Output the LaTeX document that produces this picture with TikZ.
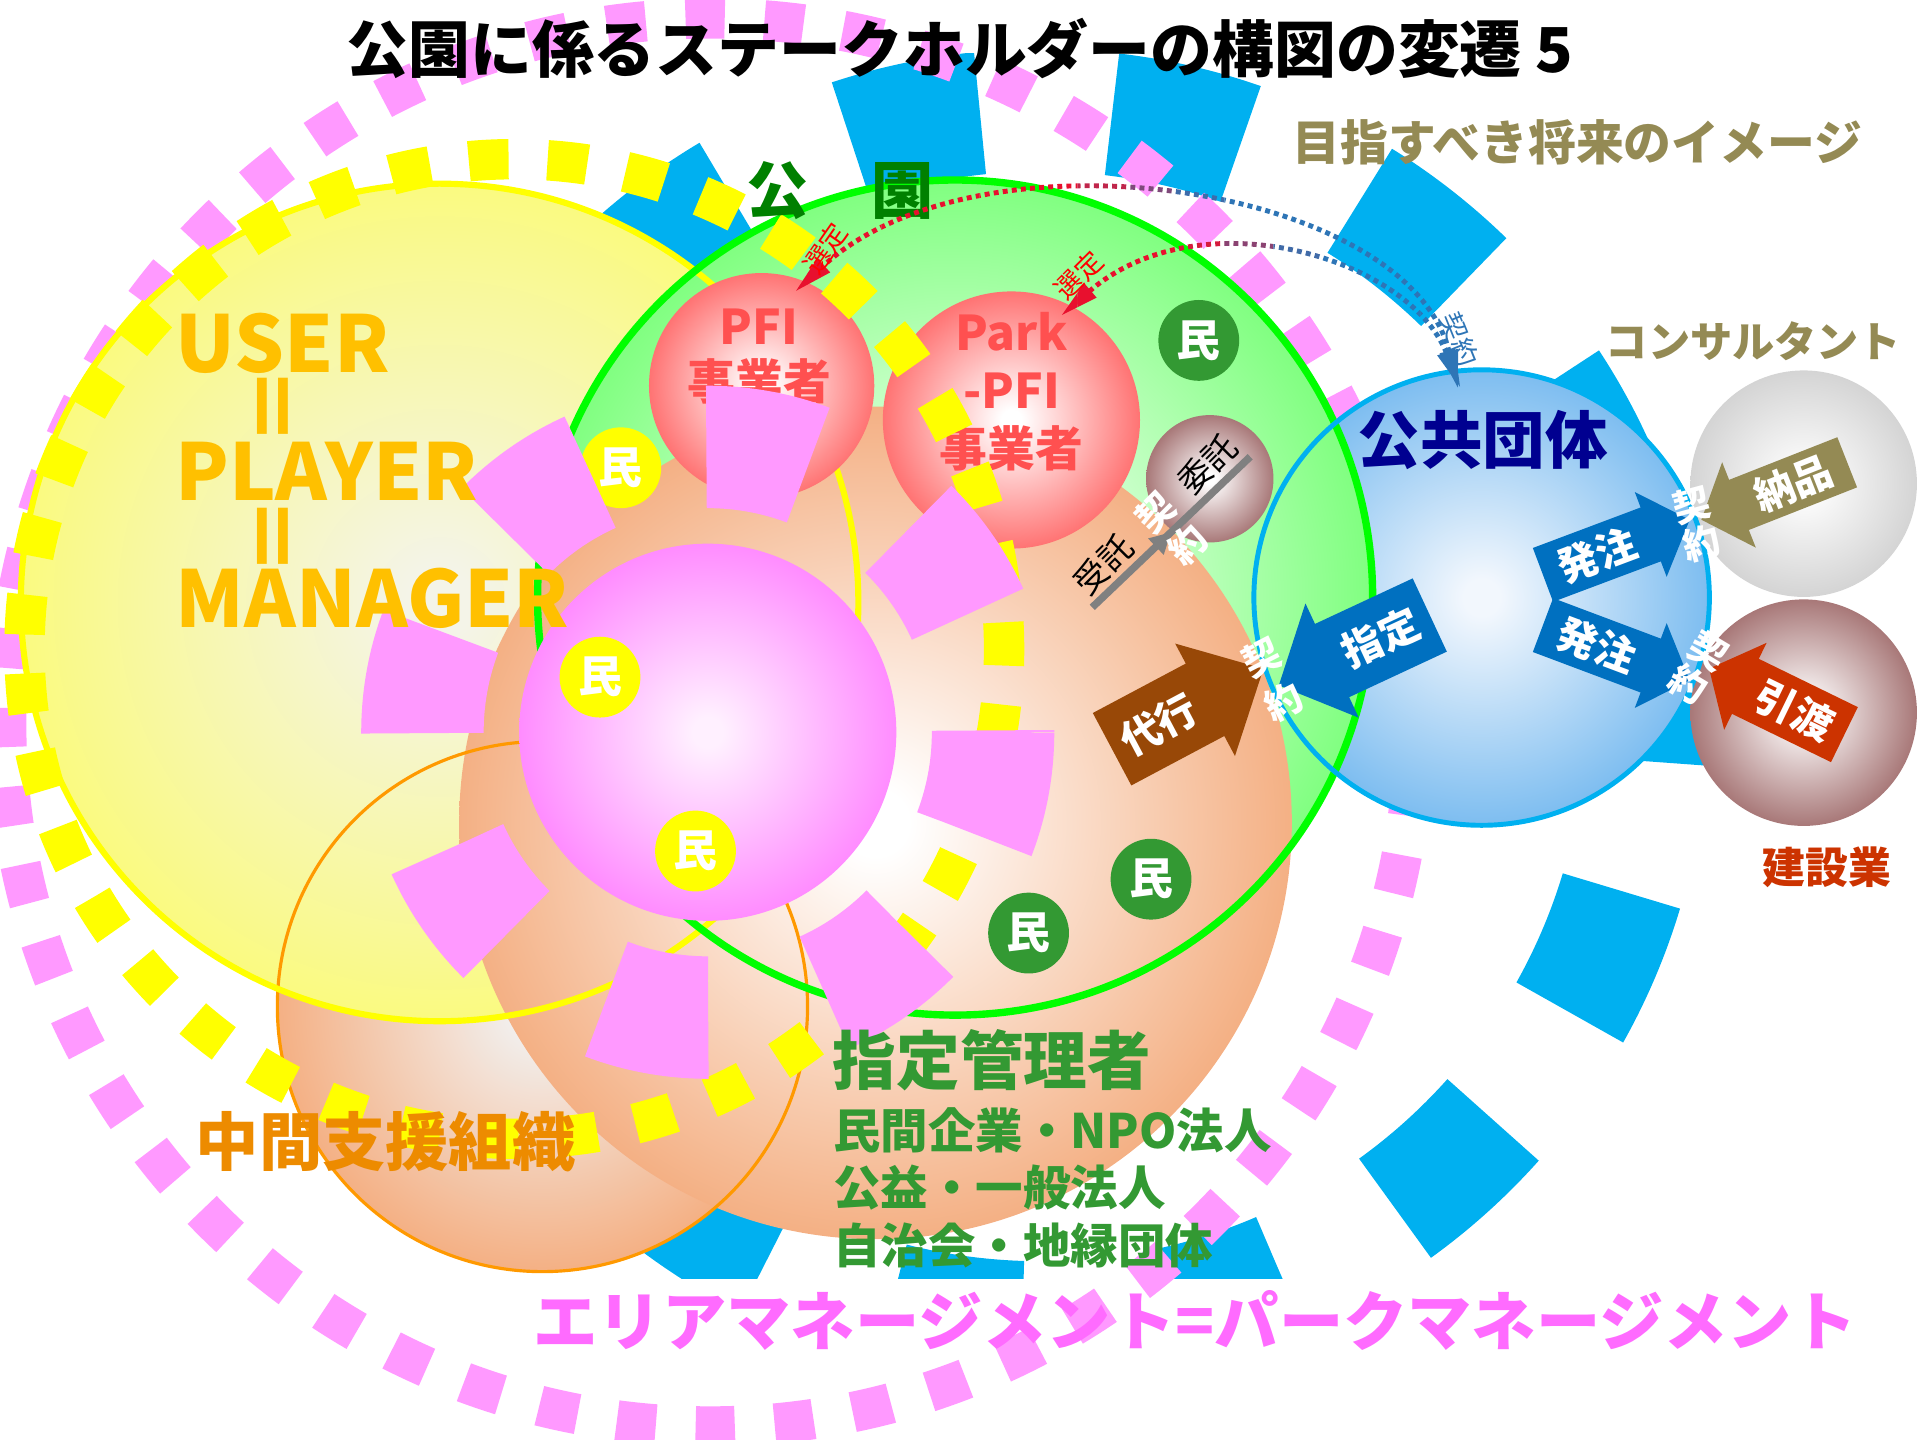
\documentclass[tikz,border=0pt]{standalone}
\usepackage{fontspec}
\setmainfont{Noto Sans CJK JP}
\usetikzlibrary{arrows.meta,decorations.markings}

\definecolor{ringblue}{HTML}{00B0F0}
\definecolor{ringpink}{HTML}{FF99FF}
\definecolor{ringyellow}{HTML}{FFFF00}
\definecolor{userfill}{HTML}{FAFA80}
\definecolor{usercore}{HTML}{F4F4E8}
\definecolor{parkfill}{HTML}{80FF80}
\definecolor{parkline}{HTML}{00FF00}
\definecolor{mgrfill}{HTML}{F4B084}
\definecolor{midcore}{HTML}{F2F2F2}
\definecolor{midline}{HTML}{FF9900}
\definecolor{pinkfill}{HTML}{FF8CFF}
\definecolor{pinkcore}{HTML}{FFF0FF}
\definecolor{pfifill}{HTML}{FF7373}
\definecolor{pfitext}{HTML}{FF5050}
\definecolor{rosyfill}{HTML}{A87878}
\definecolor{greyfill}{HTML}{D4D4D4}
\definecolor{pubfill}{HTML}{7DBDF0}
\definecolor{pubcore}{HTML}{F2F7FD}
\definecolor{publine}{HTML}{00B0F0}
\definecolor{pubtext}{HTML}{000090}
\definecolor{mingreen}{HTML}{339933}
\definecolor{parktext}{HTML}{008000}
\definecolor{usertext}{HTML}{FFC000}
\definecolor{midtext}{HTML}{ED8B00}
\definecolor{amtext}{HTML}{FF6BFF}
\definecolor{olivetext}{HTML}{948A54}
\definecolor{buildred}{HTML}{CC3300}
\definecolor{orderblue}{HTML}{0070C0}
\definecolor{proxybrown}{HTML}{984807}
\definecolor{selred}{HTML}{E8102E}
\definecolor{conblue}{HTML}{2E75B6}
\definecolor{trustgrey}{HTML}{808080}

\colorlet{ballin}{white}
\colorlet{ballout}{gray}
\pgfdeclareradialshading[ballin,ballout]{ballshade}{\pgfpoint{0bp}{0bp}}{%
  color(0bp)=(ballin); color(2bp)=(ballin); color(25bp)=(ballout); color(50bp)=(ballout)}

\tikzset{
    sphere/.style 2 args = {circle, inner sep=0pt, outer sep=0pt, shade, shading=ballshade,
        /utils/exec={\colorlet{ballin}{#1}\colorlet{ballout}{#2}}},
    diam/.style = {minimum size=#1*0.12245mm},
    ring/.style = {line width=#1*0.3484pt},
    rim/.style = {circle, inner sep=0pt, outer sep=0pt, draw=#1},
    lbl/.style 2 args = {font=\bfseries\fontsize{#1}{#2}\selectfont, inner sep=0pt, align=center},
    thinlbl/.style = {font=\fontsize{#1}{#1}\selectfont, inner sep=0pt},
    badge/.style = {circle, fill=#1, diam=66, inner sep=0pt, text=white,
        font=\bfseries\fontsize{12.5}{12.5}\selectfont},
    pactlbl/.style = {text=white, lbl={10.5}{#1}},
    arrowtext/.style = {text=white, lbl={11.5}{11.5}},
    selline/.style = {line width=1.4pt, dash pattern=on 1.4pt off 1.2pt,
        {Triangle[length=11pt,width=5pt]}-{Triangle[length=11pt,width=5pt]}},
    trustline/.style = {draw=trustgrey, line width=2.1pt, postaction={decorate},
        decoration={markings, mark=at position 0.5 with {\arrow{Triangle[length=6pt,width=6pt]}}}},
    pics/blockarrow/.style n args = {6}{code={
        \fill[#5] ({-(#1)/2},{-(#2)/2}) -- ({(#1)/2-(#4)},{-(#2)/2}) -- ({(#1)/2-(#4)},{-(#3)/2})
            -- ({(#1)/2},0) -- ({(#1)/2-(#4)},{(#3)/2}) -- ({(#1)/2-(#4)},{(#2)/2})
            -- ({-(#1)/2},{(#2)/2}) -- cycle;
        \node[transform shape, arrowtext] (-t) at ({-(#4)/2},0) {#6};
    }}
}

\begin{document}
\begin{tikzpicture}[x=0.12245mm, y=-0.12245mm]
    \useasboundingbox (0,0) rectangle (1568,1176);
    % rings at the back
    \begin{scope}
        \clip (0,44) rectangle (1568,1044);
        \draw[ringblue, ring=100, dash pattern=on 37.63pt off 37.63pt, dash phase=9.8pt]
            (850,585) ++(180:495) arc[start angle=180, end angle=540, radius=495];
    \end{scope}
    \draw[ringpink, ring=33, dash pattern=on 11.15pt off 11.33pt, dash phase=7pt] (580,590) circle[radius=575];

    \node[sphere={white}{greyfill}, diam=185] (cons) at (1473,395) {};
    \node[sphere={white}{rosyfill}, diam=185] (kens) at (1473,582) {};
    \node[sphere={pubcore}{pubfill}, diam=372] (kokyo) at (1210,488) {};
    \node[sphere={midcore}{mgrfill}, diam=433] (mid) at (443,822) {};
    \node[sphere={usercore}{userfill}, diam=684] (user) at (359,492) {};
    \node[sphere={white}{parkfill}, diam=682] (park) at (780,488) {};
    \node[sphere={white}{mgrfill}, diam=680] (mgr) at (715,672) {};

    \node[rim=midline, line width=0.9pt, diam=433] (midrim) at (mid) {};
    \node[rim=ringyellow, line width=1.75pt, diam=684] (userrim) at (user) {};
    \node[rim=parkline, line width=2.1pt, diam=682] (parkrim) at (park) {};
    \node[rim=publine, line width=1.4pt, diam=372] (kokyorim) at (kokyo) {};

    \node[sphere={white}{pfifill}, diam=184] (pfi) at (622,315) {};
    \node[sphere={white}{pfifill}, diam=210] (ppfi) at (826,343) {};
    \node[sphere={white}{rosyfill}, diam=104] (itaku) at (988,391) {};
    \node[lbl={13.6}{15.7}, text=pfitext] (pfitxt) at (620,291) {PFI\\事業者};
    \node[lbl={13.6}{16.4}, text=pfitext] (ppfitxt) at (826,320) {Park\\-PFI\\事業者};

    \node[sphere={pinkcore}{pinkfill}, diam=308] (mgt) at (578,598) {};

    \node[badge=mingreen] (min1) at (979,278) {民};
    \node[badge=mingreen] (min2) at (940,718) {民};
    \node[badge=mingreen] (min3) at (840,762) {民};
    \node[badge=ringyellow] (min4) at (507,382) {民};
    \node[badge=ringyellow] (min5) at (490,553) {民};
    \node[badge=ringyellow] (min6) at (568,695) {民};

    % rings in front
    \draw[ringyellow, ring=33, dash pattern=on 11.32pt off 11.11pt, dash phase=6.6pt] (420,530) circle[radius=400];
    \draw[ringpink, ring=100, dash pattern=on 29.6pt off 34.1pt] (578,598) circle[radius=233];

    \node[lbl={17.6}{17.6}] (title) at (784,40) {公園に係るステークホルダーの構図の変遷 5};
    \node[lbl={13.6}{13.6}, text=olivetext] (future) at (1288,116) {目指すべき将来のイメージ};
    \node[lbl={17.7}{17.7}, text=parktext] (parklbl) at (686,156) {公　園};
    \node[lbl={17.8}{17.8}, text=pubtext] (kokyolbl) at (1211,359) {公共団体};
    \node[lbl={12}{12}, text=olivetext] (conslbl) at (1432,279) {コンサルタント};
    \node[lbl={12.2}{12.2}, text=buildred] (kenslbl) at (1492,708) {建設業};

    \node[lbl={22.3}{22.3}, text=usertext, anchor=west] (user1) at (143,280) {USER};
    \node[lbl={22.3}{22.3}, text=usertext, rotate=90] (eq1) at (229,332) {\scalebox{1.35}[1]{=}};
    \node[lbl={22.3}{22.3}, text=usertext, anchor=west] (user2) at (143,385) {PLAYER};
    \node[lbl={22.3}{22.3}, text=usertext, rotate=90] (eq2) at (229,438) {\scalebox{1.35}[1]{=}};
    \node[lbl={22.3}{22.3}, text=usertext, anchor=west] (user3) at (143,489) {MANAGER};

    \node[lbl={18}{18}, text=midtext] (midlbl) at (315,932) {中間支援組織};
    \node[lbl={18.1}{18.1}, text=mingreen] (mgrlbl) at (810,866) {指定管理者};
    \node[lbl={13.5}{13.5}, text=mingreen, anchor=west] (mgr1) at (680,923) {民間企業・NPO法人};
    \node[lbl={13.5}{13.5}, text=mingreen, anchor=west] (mgr2) at (680,970) {公益・一般法人};
    \node[lbl={13.5}{13.5}, text=mingreen, anchor=west] (mgr3) at (680,1017) {自治会・地縁団体};
    \node[lbl={18.3}{18.3}, text=amtext] (amlbl) at (976,1078) {エリアマネージメント=パークマネージメント};

    % trust between the two
    \coordinate (trustfrom) at (892,496);
    \coordinate (trustto) at (1021,373);
    \draw[trustline] (trustfrom) -- (trustto);
    \node[thinlbl=9.5, rotate=45] (jutaku) at (901,461) {受託};
    \node[thinlbl=9.5, rotate=45] (itakulbl) at (986,379) {委託};

    \pic[rotate=25] (desig) at (1106,531) {blockarrow={-136}{66}{103}{-48}{orderblue}{指定}};
    \pic[rotate=28] (proxy) at (970,579) {blockarrow={140}{67}{104}{54}{proxybrown}{代行}};
    \pic[rotate=20.6] (order1) at (1320,447) {blockarrow={128}{47}{74}{34}{orderblue}{発注}};
    \pic[rotate=-20.6] (order2) at (1320,533) {blockarrow={128}{47}{74}{34}{orderblue}{発注}};
    \pic[rotate=21.5] (deliv) at (1449,401) {blockarrow={-128}{44}{75}{-33}{olivetext}{納品}};
    \pic[rotate=-26] (handover) at (1451,573) {blockarrow={-123}{50}{79}{-33}{buildred}{引渡}};

    \node[pactlbl=12.9, rotate=45] (pact1) at (957,432) {契\\約};
    \node[pactlbl=14, rotate=27] (pact2) at (1039,555) {契\\約};
    \node[pactlbl=10, rotate=15] (pact3) at (1386,428) {契\\約};
    \node[pactlbl=11, rotate=-31] (pact4) at (1387,545) {契\\約};

    % selection / contract curves, red to blue
    \foreach \k in {0,...,14} {
        \pgfmathsetmacro{\redA}{min(100,max(0,(330-40*\k)/1.15))}
        \pgfmathsetmacro{\redB}{min(100,max(0,(410-40*\k)/1.0))}
        \begin{scope}
            \clip (640+40*\k,90) rectangle (680+40*\k,340);
            \draw[selline, selred!\redA!conblue, shorten <=-5pt, shorten >=-4pt]
                (kokyo.97) .. controls (1150,150) and (800,100) .. (pfi.67);
            \draw[selline, selred!\redB!conblue, shorten <=-5pt, shorten >=-4pt]
                (kokyo.97) .. controls (1150,210) and (980,160) .. (ppfi.62);
        \end{scope}
    }
    \node[thinlbl=7.7, text=conblue, rotate=-68] (pactsmall) at (1192,277) {契約};
    \node[thinlbl=7.7, text=red, rotate=55] (sel1) at (674,203) {選定};
    \node[thinlbl=7.7, text=red, rotate=45] (sel2) at (881,225) {選定};
\end{tikzpicture}
\end{document}
